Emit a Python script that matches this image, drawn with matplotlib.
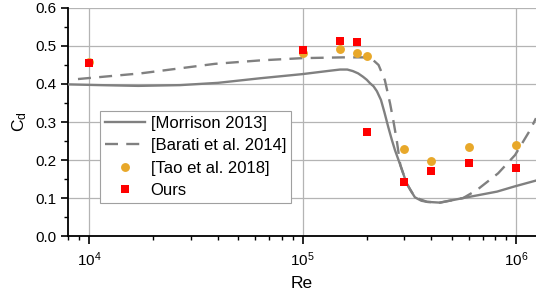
import matplotlib
matplotlib.use("Agg")
import matplotlib.pyplot as plt
from matplotlib.ticker import LogLocator, MultipleLocator, FixedLocator

plt.rcParams['font.family'] = ['Liberation Sans', 'DejaVu Sans']
plt.rcParams['mathtext.fontset'] = 'custom'
plt.rcParams['mathtext.rm'] = 'Liberation Sans'
plt.rcParams['mathtext.it'] = 'Liberation Sans:italic'

# Morrison 2013 correlation
morrison_re = [7.98e3, 1.13e4, 1.70e4, 2.67e4, 4.02e4, 6.32e4, 1.0e5, 1.35e5, 1.50e5, 1.62e5,
               1.72e5, 1.82e5, 1.92e5, 2.00e5, 2.07e5, 2.15e5, 2.23e5, 2.33e5, 2.42e5,
               2.52e5, 2.62e5, 2.71e5, 2.87e5, 3.07e5, 3.20e5, 3.36e5, 3.60e5, 3.83e5,
               4.40e5, 5.65e5, 8.15e5, 9.9e5, 1.24e6]
morrison_cd = [0.399, 0.397, 0.395, 0.397, 0.403, 0.415, 0.426, 0.435, 0.438, 0.438,
               0.434, 0.428, 0.419, 0.411, 0.402, 0.394, 0.381, 0.358, 0.325,
               0.287, 0.253, 0.226, 0.187, 0.139, 0.121, 0.102, 0.093, 0.090,
               0.088, 0.100, 0.117, 0.131, 0.146]

# Barati et al. 2014
barati_re = [8.88e3, 1.75e4, 3.89e4, 6.32e4, 1.0e5, 1.55e5, 1.92e5, 2.05e5, 2.15e5, 2.27e5,
             2.43e5, 2.57e5, 2.66e5, 2.76e5, 2.87e5, 3.07e5, 3.36e5, 3.83e5, 4.40e5,
             5.65e5, 6.55e5, 8.24e5, 9.89e5, 1.164e6, 1.24e6]
barati_cd = [0.413, 0.428, 0.453, 0.462, 0.468, 0.470, 0.470, 0.468, 0.462, 0.450,
             0.410, 0.349, 0.305, 0.253, 0.187, 0.139, 0.102, 0.090, 0.088,
             0.100, 0.121, 0.165, 0.213, 0.279, 0.310]

# Tao et al. 2018
tao_re = [1e4, 1e5, 1.5e5, 1.8e5, 2.0e5, 3.0e5, 4.0e5, 6.0e5, 1e6]
tao_cd = [0.458, 0.482, 0.492, 0.481, 0.474, 0.229, 0.198, 0.234, 0.239]

# Ours
ours_re = [1e4, 1e5, 1.5e5, 1.8e5, 2.0e5, 3.0e5, 4.0e5, 6.0e5, 1e6]
ours_cd = [0.454, 0.490, 0.514, 0.511, 0.275, 0.141, 0.172, 0.193, 0.179]

xticks = [1e4, 1e5, 1e6]
xticklabels = ['10$^4$', '10$^5$', '10$^6$']

fig = plt.figure(figsize=(5.36, 2.94), dpi=100)
ax = fig.add_axes([0.127, 0.197, 0.873, 0.776])

gray = '#808080'
ax.plot(morrison_re, morrison_cd, color=gray, lw=1.7, label='[Morrison 2013]', zorder=3)
ax.plot(barati_re, barati_cd, color=gray, lw=1.7, ls=(0, (5.5, 3.5)),
        label='[Barati et al. 2014]', zorder=3)
ax.plot(tao_re, tao_cd, 'o', color='#E8A82A', ms=6.4, mew=0,
        label='[Tao et al. 2018]', zorder=4)
ax.plot(ours_re, ours_cd, 's', color='#FF0000', ms=5.8, mew=0,
        label='Ours', zorder=5)

ax.set_xscale('log')
ax.set_xlim(7.98e3, 1.24e6)
ax.set_ylim(0.0, 0.6)
ax.xaxis.set_major_locator(FixedLocator(xticks))
ax.set_xticklabels(xticklabels)
ax.xaxis.set_minor_locator(LogLocator(base=10, subs=range(2, 10)))
ax.xaxis.set_minor_formatter(plt.NullFormatter())
ax.yaxis.set_major_locator(MultipleLocator(0.1))
ax.yaxis.set_minor_locator(MultipleLocator(0.05))
ax.yaxis.set_major_formatter(plt.FuncFormatter(lambda v, p: f'{v:.1f}'))

ax.grid(True, which='major', color='#b4b4b4', lw=0.9)
ax.set_axisbelow(True)
for s in ['top', 'right']:
    ax.spines[s].set_visible(False)
for s in ['left', 'bottom']:
    ax.spines[s].set_linewidth(1.3)
ax.tick_params(which='major', direction='out', length=5, width=1.2, labelsize=11, pad=3)
ax.tick_params(which='minor', direction='out', length=3, width=1.0)
ax.tick_params(axis='x', which='major', length=6, pad=4)

ax.set_xlabel('Re', fontsize=12.5, labelpad=5)
ax.set_ylabel('C$_\\mathrm{d}$', fontsize=12.5, labelpad=5)

leg = ax.legend(loc='lower left', bbox_to_anchor=(0.068, 0.145), fontsize=12,
                frameon=True, fancybox=False, edgecolor='#a0a0a0', framealpha=1,
                handlelength=2.4, handletextpad=0.35, borderpad=0.3, labelspacing=0.45,
                borderaxespad=0)
leg.get_frame().set_linewidth(0.8)

fig.savefig('out.png', dpi=100)
